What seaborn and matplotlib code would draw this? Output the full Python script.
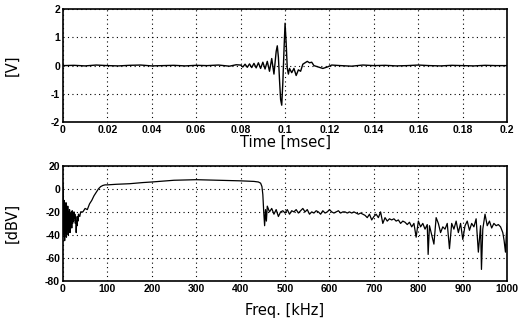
import pandas as pd
import matplotlib
matplotlib.use('Agg')
import matplotlib.pyplot as plt
import seaborn as sb

# received pulse, time in msec, amplitude in volts
time_ms = [0.0, 0.005, 0.01, 0.015, 0.02, 0.025, 0.03, 0.035, 0.04, 0.045, 0.05, 0.055,
           0.06, 0.065, 0.07, 0.075, 0.078, 0.08, 0.081, 0.082, 0.083, 0.084, 0.085,
           0.086, 0.087, 0.088, 0.089, 0.09, 0.091, 0.092, 0.093, 0.094, 0.095, 0.096,
           0.0965, 0.097, 0.0975, 0.098, 0.0985, 0.099, 0.0995, 0.1, 0.1005, 0.101,
           0.1015, 0.102, 0.103, 0.104, 0.105, 0.106, 0.107, 0.108, 0.109, 0.11,
           0.111, 0.112, 0.113, 0.115, 0.117, 0.119, 0.121, 0.125, 0.13, 0.135, 0.14,
           0.145, 0.15, 0.155, 0.16, 0.165, 0.17, 0.175, 0.18, 0.185, 0.19, 0.195, 0.2]
volts = [0.0, 0.01, -0.01, 0.02, 0.0, -0.01, 0.01, 0.02, -0.01, 0.0, 0.01, -0.01,
         0.01, 0.0, 0.02, -0.02, 0.03, 0.02, -0.05, 0.05, -0.06, 0.06, -0.07,
         0.08, -0.08, 0.1, -0.1, 0.12, -0.12, 0.15, -0.2, 0.25, -0.3, 0.5,
         0.7, 0.3, -0.5, -1.2, -1.4, -0.6, 0.5, 1.5, 0.8, -0.1,
         -0.3, -0.1, -0.25, -0.1, -0.35, -0.15, -0.2, 0.05, 0.1, 0.15,
         0.1, 0.12, 0.0, -0.05, -0.1, -0.05, 0.02, 0.0, -0.02, 0.02, 0.0,
         0.01, -0.01, 0.0, 0.02, 0.0, -0.01, 0.01, 0.0, -0.01, 0.01, 0.0, 0.0]

# spectrum, frequency in kHz, level in dBV
freq_khz = [0, 1, 2, 3, 4, 5, 6, 7, 8, 9, 10, 11, 12, 13, 14, 15, 16, 17, 18, 19,
            20, 21, 22, 23, 24, 25, 26, 27, 28, 29, 30, 31, 32, 33, 34, 35, 38, 40,
            45, 50, 55, 58, 60, 65, 70, 75, 80, 85, 90, 95, 100, 120, 150, 180, 200,
            250, 300, 350, 400, 430, 440, 445, 448, 450, 452, 454, 456, 458, 460,
            465, 470, 475, 480, 485, 490, 495, 500, 505, 510, 515, 520, 525, 530,
            535, 540, 545, 550, 555, 560, 565, 570, 575, 580, 585, 590, 595, 600,
            605, 610, 615, 620, 625, 630, 635, 640, 645, 650, 655, 660, 665, 670,
            675, 680, 685, 690, 695, 700, 705, 710, 715, 720, 725, 730, 735, 740,
            745, 750, 755, 760, 765, 770, 775, 780, 785, 790, 795, 800, 805, 810,
            815, 820, 822, 825, 830, 835, 840, 845, 850, 855, 860, 865, 870, 875,
            880, 885, 890, 895, 900, 905, 910, 915, 920, 925, 930, 935, 940, 942,
            945, 950, 955, 960, 965, 970, 975, 980, 985, 990, 993, 996, 998, 1000]
dbv = [5, -5, -40, -10, -45, -15, -38, -12, -42, -18, -35, -15, -40, -20, -36, -18, -38, -22, -30, -20,
       -34, -19, -30, -22, -28, -20, -25, -22, -30, -24, -38, -28, -32, -24, -28, -22, -24, -20,
       -20, -17, -18, -15, -13, -10, -6, -3, 0, 2, 3, 3.5, 3.5, 4, 4.5, 5.5, 6,
       7.5, 8, 7.5, 7, 6.5, 6, 5, 2, -5, -20, -32, -18, -28, -15,
       -20, -17, -22, -18, -24, -20, -19, -21, -18, -22, -19, -20, -18, -21,
       -19, -17, -20, -18, -22, -20, -21, -19, -20, -22, -19, -21, -20, -18,
       -20, -21, -20, -19, -21, -20, -20, -21, -20, -21, -20, -21, -22, -21,
       -22, -23, -25, -22, -27, -24, -22, -25, -20, -30, -25, -28, -26, -27,
       -26, -28, -27, -30, -28, -29, -31, -29, -33, -30, -42, -28, -33, -30,
       -35, -31, -57, -32, -40, -48, -25, -30, -38, -33, -35, -30, -52, -30,
       -35, -28, -38, -30, -44, -32, -28, -36, -30, -33, -26, -55, -32, -70,
       -35, -22, -32, -28, -34, -30, -32, -31, -33, -38, -45, -55, -40, -30]

dfT = pd.DataFrame({'Time': time_ms, 'V': volts})
dfF = pd.DataFrame({'Freq': freq_khz, 'dBV': dbv})

sb.set_style('white')
plt.rcParams['font.family'] = ['Liberation Sans', 'DejaVu Sans']
plt.rcParams['axes.unicode_minus'] = False
plt.rcParams['axes.labelcolor'] = 'k'
plt.rcParams['xtick.color'] = 'k'
plt.rcParams['ytick.color'] = 'k'

fig = plt.figure(figsize = (5.24, 3.24), dpi = 100)
ax1 = fig.add_axes([0.120, 0.623, 0.848, 0.349])
ax2 = fig.add_axes([0.120, 0.133, 0.848, 0.355])

#time signal
sb.lineplot(x = 'Time', y = 'V', data = dfT, ax = ax1, color = 'k',
            linewidth = 1.0, estimator = None, sort = False)
ax1.set_xlim(0, 0.2)
ax1.set_ylim(-2, 2)
ax1.set_xticks([0, 0.02, 0.04, 0.06, 0.08, 0.1, 0.12, 0.14, 0.16, 0.18, 0.2])
ax1.set_xticklabels(['0', '0.02', '0.04', '0.06', '0.08', '0.1', '0.12',
                     '0.14', '0.16', '0.18', '0.2'])
ax1.set_yticks([-2, -1, 0, 1, 2])
ax1.set_xlabel('Time [msec]', fontsize = 10.5, labelpad = 0, family = 'DejaVu Sans')
ax1.set_ylabel('[V]', fontsize = 10.5, family = 'DejaVu Sans')

#spectrum
sb.lineplot(x = 'Freq', y = 'dBV', data = dfF, ax = ax2, color = 'k',
            linewidth = 0.9, estimator = None, sort = False)
ax2.set_xlim(0, 1000)
ax2.set_ylim(-80, 20)
ax2.set_xticks(range(0, 1001, 100))
ax2.set_yticks([-80, -60, -40, -20, 0, 20])
ax2.set_xlabel('Freq. [kHz]', fontsize = 10.5, labelpad = 7, family = 'DejaVu Sans')
ax2.set_ylabel('[dBV]', fontsize = 10.5, family = 'DejaVu Sans')

for ax in (ax1, ax2):
    ax.grid(True, color = 'k', linestyle = (0, (1, 3)), linewidth = 0.8)
    for s in ax.spines.values():
        s.set_color('k')
        s.set_linewidth(1.2)
    ax.tick_params(direction = 'in', length = 3, width = 0.8, pad = 2,
                   labelsize = 7.5)
    for lab in ax.get_xticklabels() + ax.get_yticklabels():
        lab.set_fontweight('bold')
    ax.yaxis.set_label_coords(-0.098, 0.5)

fig.savefig('out.png', dpi = 100)
